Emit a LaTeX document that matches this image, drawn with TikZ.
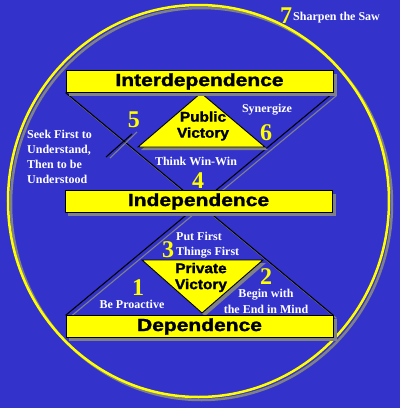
\documentclass[tikz,border=0pt]{standalone}
\usepackage{fontspec}
\setmainfont{Liberation Serif}
\newfontfamily\arialf{Liberation Sans}
\newfontfamily\arialh[UprightFont=* Bold, FakeBold=1.5]{Liberation Sans}
\usetikzlibrary{calc}
\definecolor{bgblue}{RGB}{51,51,204}
\definecolor{ylw}{RGB}{255,255,0}
\definecolor{shd}{RGB}{128,128,136}
\pgfdeclarelayer{bgl}
\pgfdeclarelayer{midl}
\pgfsetlayers{bgl,midl,main}
\tikzset{
  bar/.style={draw=black, line width=0.8pt, fill=ylw, minimum width=267pt, minimum height=21.5pt, inner sep=0pt, font=\arialh\fontsize{17.5}{20}\selectfont},
  note/.style={text=white, font=\bfseries\fontsize{12}{15}\selectfont, inner sep=0pt, anchor=base},
  num/.style={text=ylw, font=\bfseries\fontsize{24}{24}\selectfont, inner sep=0pt, anchor=base},
  vic/.style={font=\arialh\fontsize{14}{16}\selectfont, align=center, inner sep=0pt},
  diag/.style={draw=black, line width=1.1pt},
  diagshadow/.style={draw=shd, line width=1.1pt},
  tri/.style={draw=black, line width=0.9pt, fill=ylw},
  trishadow/.style={fill=shd}
}
\begin{document}
\begin{tikzpicture}[x=1pt,y=-1pt]
\useasboundingbox (0,0) rectangle (400,408);
% bars
\node[bar] (inter) at (199.5,81.5) {\scalebox{1.2}[1]{Interdependence}};
\node[bar] (indep) at (198.5,201.5) {\scalebox{1.2}[1]{Independence}};
\node[bar] (dep) at (199.5,326.5) {\scalebox{1.2}[1]{Dependence}};
% triangle corners
\coordinate (pa) at (201,93);
\coordinate (pl) at (138,147);
\coordinate (pr) at (265,147);
\coordinate (ql) at (142,260);
\coordinate (qr) at (263,260);
\coordinate (qa) at (202,313);
\coordinate (p1) at (106,157);
\coordinate (p2) at (132,134);
\begin{pgfonlayer}{bgl}
  \fill[bgblue] (0,0) rectangle (400,408);
  \draw[shd, line width=2.5pt] (201.5,204) ellipse [x radius=190.5pt, y radius=196pt];
  \draw[ylw, line width=2.5pt] (198.5,201) ellipse [x radius=190.5pt, y radius=196pt];
  \draw[diagshadow] ($(inter.south west)+(3,3)$) -- ($(dep.north east)+(3,3)$);
  \draw[diagshadow] ($(inter.south east)+(3,3)$) -- ($(dep.north west)+(3,3)$);
  \draw[diag] (inter.south west) -- (dep.north east);
  \draw[diag] (inter.south east) -- (dep.north west);
  \draw[diagshadow] ($(p1)+(4,1)$) -- ($(p2)+(5,-2)$);
  \draw[diag] (p1) -- (p2);
\end{pgfonlayer}
\begin{pgfonlayer}{midl}
  \fill[trishadow] ($(pa)+(3,3)$) -- ($(pl)+(3,3)$) -- ($(pr)+(3,3)$) -- cycle;
  \fill[trishadow] ($(ql)+(3,3)$) -- ($(qr)+(3,3)$) -- ($(qa)+(3,3)$) -- cycle;
  \path[tri] (pa) -- (pl) -- (pr) -- cycle;
  \path[tri] (ql) -- (qr) -- (qa) -- cycle;
  \fill[shd] ($(inter.north west)+(3.5,3.5)$) rectangle ($(inter.south east)+(3.5,3.5)$);
  \fill[shd] ($(indep.north west)+(3.5,3.5)$) rectangle ($(indep.south east)+(3.5,3.5)$);
  \fill[shd] ($(dep.north west)+(3.5,3.5)$) rectangle ($(dep.south east)+(3.5,3.5)$);
\end{pgfonlayer}
% victory labels
\node[vic] (pub) at (203,126) {\scalebox{1.1}[1]{Public}\\\scalebox{1.1}[1]{Victory}};
\node[vic] (priv) at (201,277.5) {\scalebox{1.1}[1]{Private}\\\scalebox{1.1}[1]{Victory}};
% numbers
\node[num] (n7) at (286,23) {7};
\node[num] (n5) at (134,127) {5};
\node[num] (n6) at (266,140) {6};
\node[num] (n4) at (198,188) {4};
\node[num] (n3) at (168,257) {3};
\node[num] (n1) at (138,295) {1};
\node[num] (n2) at (266,284) {2};
% notes
\node[note, anchor=base west] (saw) at (293,20) {Sharpen the Saw};
\node[note] (syn) at (267,112) {Synergize};
\node[note, anchor=base west] (s1) at (27,138) {Seek First to};
\node[note, anchor=base west] (s2) at (27,153) {Understand,};
\node[note, anchor=base west] (s3) at (27,168) {Then to be};
\node[note, anchor=base west] (s4) at (27,183) {Understood};
\node[note] (win) at (196,165) {Think Win-Win};
\node[note, anchor=base west] (pf1) at (176,240) {Put First};
\node[note, anchor=base west] (pf2) at (176,255) {Things First};
\node[note] (bp) at (132,308) {Be Proactive};
\node[note] (bw1) at (266,297.5) {Begin with};
\node[note] (bw2) at (266,313) {the End in Mind};
\end{tikzpicture}
\end{document}
